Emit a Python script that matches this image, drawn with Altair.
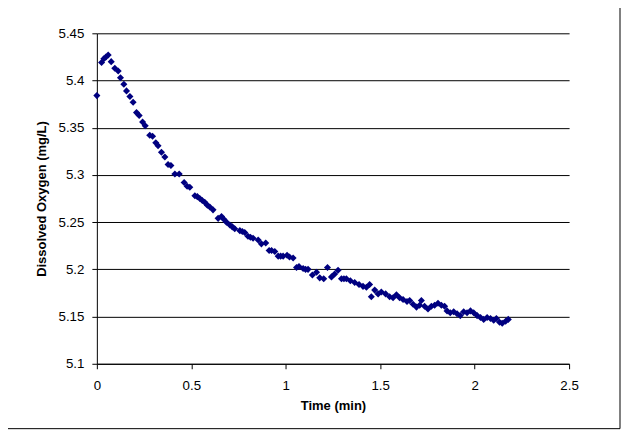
import altair as alt
import pandas as pd

time_min = [
    0.000, 0.025, 0.037, 0.048, 0.060, 0.076, 0.095, 0.113, 0.125, 0.143,
    0.157, 0.175, 0.192, 0.210, 0.224, 0.242, 0.256, 0.280, 0.295, 0.312,
    0.324, 0.342, 0.360, 0.377, 0.392, 0.413, 0.436, 0.462, 0.478, 0.492,
    0.519, 0.532, 0.545, 0.558, 0.571, 0.585, 0.598, 0.615, 0.642, 0.660,
    0.672, 0.686, 0.704, 0.717, 0.730, 0.757, 0.770, 0.783, 0.800, 0.813,
    0.827, 0.854, 0.871, 0.894, 0.912, 0.925, 0.942, 0.960, 0.973, 0.986,
    1.007, 1.020, 1.039, 1.057, 1.070, 1.092, 1.105, 1.118, 1.141, 1.163,
    1.180, 1.201, 1.221, 1.242, 1.259, 1.277, 1.295, 1.308, 1.321, 1.342,
    1.365, 1.388, 1.409, 1.427, 1.444, 1.453, 1.471, 1.489, 1.506, 1.529,
    1.550, 1.568, 1.586, 1.603, 1.621, 1.642, 1.656, 1.674, 1.692, 1.709,
    1.718, 1.735, 1.753, 1.771, 1.788, 1.806, 1.824, 1.841, 1.854, 1.871,
    1.889, 1.907, 1.924, 1.942, 1.960, 1.978, 1.995, 2.013, 2.031, 2.048,
    2.066, 2.084, 2.101, 2.115, 2.132, 2.146, 2.164, 2.178,
]
oxygen = [
    5.384, 5.419, 5.423, 5.425, 5.427, 5.420, 5.413, 5.410, 5.403, 5.396,
    5.389, 5.383, 5.377, 5.366, 5.363, 5.356, 5.352, 5.342, 5.341, 5.334,
    5.331, 5.324, 5.319, 5.311, 5.310, 5.301, 5.301, 5.292, 5.288, 5.287,
    5.278, 5.277, 5.275, 5.273, 5.271, 5.268, 5.266, 5.263, 5.254, 5.256,
    5.253, 5.250, 5.247, 5.245, 5.243, 5.241, 5.240, 5.239, 5.235, 5.234,
    5.233, 5.231, 5.227, 5.228, 5.220, 5.220, 5.219, 5.214, 5.214, 5.214,
    5.215, 5.213, 5.212, 5.202, 5.203, 5.201, 5.200, 5.200, 5.194, 5.197,
    5.191, 5.190, 5.202, 5.192, 5.195, 5.199, 5.190, 5.190, 5.190, 5.188,
    5.186, 5.184, 5.182, 5.181, 5.184, 5.171, 5.178, 5.174, 5.176, 5.174,
    5.171, 5.170, 5.173, 5.170, 5.168, 5.166, 5.167, 5.163, 5.160, 5.162,
    5.167, 5.161, 5.158, 5.161, 5.162, 5.164, 5.162, 5.161, 5.156, 5.154,
    5.155, 5.153, 5.151, 5.155, 5.154, 5.156, 5.154, 5.151, 5.149, 5.147,
    5.149, 5.148, 5.146, 5.148, 5.144, 5.143, 5.145, 5.147,
]

x_ticks = [0, 0.5, 1, 1.5, 2, 2.5]
y_ticks = [5.1, 5.15, 5.2, 5.25, 5.3, 5.35, 5.4, 5.45]

df = pd.DataFrame({"t": time_min, "do": oxygen})

FONT = "Liberation Sans"

points = alt.Chart(df).mark_point(
    shape="diamond", filled=True, size=50, color="#000080", opacity=1
).encode(
    x=alt.X("t:Q", scale=alt.Scale(domain=[0, 2.5], nice=False, zero=False),
            axis=alt.Axis(values=x_ticks, format="~g", title="Time (min)",
                          grid=False, titlePadding=8, labelPadding=10,
                          labelFlush=False)),
    y=alt.Y("do:Q", scale=alt.Scale(domain=[5.1, 5.45], nice=False, zero=False),
            axis=alt.Axis(values=y_ticks, format="~g",
                          title="Dissolved Oxygen (mg/L)", grid=True,
                          titlePadding=10, labelPadding=8, labelFlush=False)),
)

frame = alt.Chart(pd.DataFrame({"a": [0]})).mark_rect(
    fillOpacity=0, stroke="black", strokeWidth=1
).encode(
    x=alt.value(-92), x2=alt.value(524), y=alt.value(-27), y2=alt.value(396)
)

chart = alt.layer(points, frame).properties(
    width=473, height=331,
    autosize=alt.AutoSizeParams(type="none"),
    padding={"left": 89, "top": 25, "right": 52, "bottom": 70},
    background="white",
).configure_view(stroke=None).configure_axis(
    domainColor="black", tickColor="black", gridColor="black", gridWidth=1,
    tickSize=5, labelColor="black", titleColor="black",
    labelFont=FONT, titleFont=FONT, labelFontSize=13.3, titleFontSize=13,
    titleFontWeight="bold", labelFontWeight="normal",
)

chart.save("out.html", embed_options={"renderer": "svg", "actions": False})
